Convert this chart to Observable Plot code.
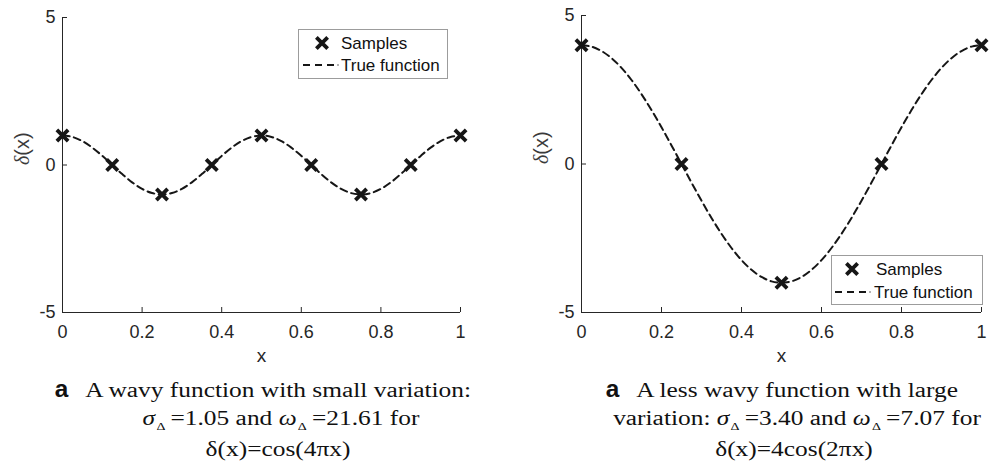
<!DOCTYPE html>
<html><head><meta charset="utf-8">
<script src="https://cdn.jsdelivr.net/npm/d3@7"></script>
<script src="https://cdn.jsdelivr.net/npm/@observablehq/plot@0.6"></script>
<style>
body{margin:0;background:#fff;}
#root{position:relative;width:1003px;height:474px;overflow:hidden;font-family:"Liberation Sans",Arial,sans-serif;}
.panel{position:absolute;top:0;}
svg.panel g[aria-label$="tick label"] text, svg.panel g[aria-label$="tick label"]{font-size:18px;}
svg.panel text.ylab{font-size:20px;}
svg.panel text.xlab{font-size:19px;}
.cap{position:absolute;font-family:"Liberation Serif","Times New Roman",serif;font-size:20px;line-height:20px;color:#111;white-space:nowrap;transform:translateX(-50%) scaleX(1.27);transform-origin:50% 50%;}
.cap span.lab{font-family:"Liberation Sans",Arial,sans-serif;font-weight:bold;font-size:24px;margin-right:12px;display:inline-block;transform:scaleX(0.8);}
.cap i{font-style:italic;}
.cap sub{font-size:11px;font-style:normal;vertical-align:-5px;margin-left:1px;margin-right:4px;}
.leg{position:absolute;}
</style>
</head><body><div id="root"></div>
<script>
// ---------- data ----------
const xTicks = [0, 0.2, 0.4, 0.6, 0.8, 1];
const xTickLabels = ["0", "0.2", "0.4", "0.6", "0.8", "1"];
const yTicks = [-5, 0, 5];
const yTickLabels = ["-5", "0", "5"];
const xDomain = [0, 1];
const yDomain = [-5, 5];

const curveX = [0,0.025,0.05,0.075,0.1,0.125,0.15,0.175,0.2,0.225,0.25,0.275,0.3,0.325,0.35,0.375,0.4,0.425,0.45,0.475,0.5,0.525,0.55,0.575,0.6,0.625,0.65,0.675,0.7,0.725,0.75,0.775,0.8,0.825,0.85,0.875,0.9,0.925,0.95,0.975,1];

const leftCurveY = [1,0.951,0.809,0.588,0.309,0,-0.309,-0.588,-0.809,-0.951,-1,-0.951,-0.809,-0.588,-0.309,0,0.309,0.588,0.809,0.951,1,0.951,0.809,0.588,0.309,0,-0.309,-0.588,-0.809,-0.951,-1,-0.951,-0.809,-0.588,-0.309,0,0.309,0.588,0.809,0.951,1];
const leftSampleX = [0, 0.125, 0.25, 0.375, 0.5, 0.625, 0.75, 0.875, 1];
const leftSampleY = [1, 0, -1, 0, 1, 0, -1, 0, 1];

const rightCurveY = [4,3.951,3.804,3.564,3.236,2.828,2.351,1.816,1.236,0.626,0,-0.626,-1.236,-1.816,-2.351,-2.828,-3.236,-3.564,-3.804,-3.951,-4,-3.951,-3.804,-3.564,-3.236,-2.828,-2.351,-1.816,-1.236,-0.626,0,0.626,1.236,1.816,2.351,2.828,3.236,3.564,3.804,3.951,4];
const rightSampleX = [0, 0.25, 0.5, 0.75, 1];
const rightSampleY = [4, 0, -4, 0, 4];

const legendLabels = ["Samples", "True function"];
const xLabel = "x";
const yLabel = "δ(x)";

// ---------- drawing ----------
const AX = "#262626";
const INK = "#161616";
const MR = 5.2;
const root = document.getElementById("root");

function panel(cfg) {
  const curve = curveX.map((x, i) => ({x, y: cfg.curveY[i]}));
  const samples = cfg.sx.map((x, i) => ({x, y: cfg.sy[i]}));
  const svg = Plot.plot({
    width: cfg.width, height: 370,
    marginLeft: cfg.ml, marginRight: cfg.mr, marginTop: cfg.mt, marginBottom: 58,
    x: {domain: xDomain}, y: {domain: yDomain},
    style: {fontFamily: "'Liberation Sans', Arial, sans-serif", fontSize: "18px", color: AX, background: "transparent", overflow: "visible"},
    marks: [
      Plot.ruleX([xDomain[0]], {stroke: AX, strokeWidth: 1}),
      Plot.ruleY([yDomain[0]], {stroke: AX, strokeWidth: 1}),
      Plot.axisX(xTicks, {tickSize: -5, tickPadding: 18, tickFormat: d => xTickLabels[xTicks.indexOf(d)], label: null, stroke: AX, fill: AX}),
      Plot.axisY(yTicks, {tickSize: -5, tickPadding: 12, tickFormat: d => yTickLabels[yTicks.indexOf(d)], label: null, stroke: AX, fill: AX}),
      Plot.text([xLabel], {frameAnchor: "bottom", dy: 49, text: d => d, fill: AX}),
      Plot.text([yLabel], {frameAnchor: "left", dx: -40, rotate: -90, text: d => d, fill: "#3a3a3a"}),
      Plot.line(curve, {x: "x", y: "y", stroke: INK, strokeWidth: 2, strokeDasharray: "7,4.5", curve: "catmull-rom"}),
      Plot.dot(samples, {x: "x", y: "y", symbol: "times", r: MR, stroke: INK, strokeWidth: 3.8})
    ]
  });
  svg.classList.add("panel");
  svg.style.left = cfg.left + "px";
  d3.select(svg).selectAll("text").each(function() {
    const t = d3.select(this);
    if (t.text() === yLabel) {
      t.text(null).classed("ylab", true);
      t.append("tspan").attr("font-family", "'Liberation Serif', serif").attr("font-style", "italic").text(yLabel[0]);
      t.append("tspan").text(yLabel.slice(1));
    } else if (t.text() === xLabel) {
      t.classed("xlab", true);
    }
  });
  root.appendChild(svg);
}

panel({left: 0, width: 500, ml: 62, mr: 40, mt: 17, curveY: leftCurveY, sx: leftSampleX, sy: leftSampleY});
panel({left: 500, width: 503, ml: 81, mr: 22, mt: 15, curveY: rightCurveY, sx: rightSampleX, sy: rightSampleY});

function legend(cfg) {
  const svg = d3.create("svg").attr("class", "leg").attr("width", cfg.w).attr("height", cfg.h)
    .style("left", cfg.left + "px").style("top", cfg.top + "px");
  svg.append("rect").attr("x", 0.5).attr("y", 0.5).attr("width", cfg.w - 1).attr("height", cfg.h - 1)
    .attr("fill", "#fff").attr("stroke", "#9c9c9c");
  svg.append("path").attr("d", d3.symbol(d3.symbolTimes, Math.PI * MR * MR)())
    .attr("transform", `translate(${cfg.mx},${cfg.r1})`).attr("stroke", INK).attr("stroke-width", 3.8).attr("fill", "none");
  svg.append("line").attr("x1", cfg.l1).attr("x2", cfg.l2).attr("y1", cfg.r2).attr("y2", cfg.r2)
    .attr("stroke", INK).attr("stroke-width", 2).attr("stroke-dasharray", "7,5");
  svg.append("circle").attr("cx", cfg.l2 + 3).attr("cy", cfg.r2).attr("r", 0.8).attr("fill", "#555");
  const tx = svg.append("g").attr("font-family", "'Liberation Sans', Arial, sans-serif").attr("font-size", 17).attr("fill", "#111");
  tx.append("text").attr("x", cfg.t1).attr("y", cfg.r1).attr("dy", "0.35em").text(legendLabels[0]);
  tx.append("text").attr("x", cfg.t2).attr("y", cfg.r2).attr("dy", "0.35em").text(legendLabels[1]);
  root.appendChild(svg.node());
}
legend({left: 298, top: 29, w: 150, h: 50, mx: 24, r1: 14, r2: 36, l1: 5, l2: 37, t1: 43, t2: 43});
legend({left: 831, top: 255, w: 152, h: 50, mx: 21, r1: 14, r2: 37, l1: 4, l2: 36, t1: 45, t2: 43});

// ---------- captions ----------
const captions = [
  {cx: 261.5, top: 379, html: "<span class='lab'>a</span>A wavy function with small variation:"},
  {cx: 281, top: 408, html: "<i>σ</i><sub>Δ</sub>=1.05 and <i>ω</i><sub>Δ</sub>=21.61 for"},
  {cx: 278, top: 439, html: "δ(x)=cos(4πx)"},
  {cx: 781, top: 379, html: "<span class='lab'>a</span>A less wavy function with large"},
  {cx: 796.5, top: 408, html: "variation: <i>σ</i><sub>Δ</sub>=3.40 and <i>ω</i><sub>Δ</sub>=7.07 for"},
  {cx: 794, top: 439, html: "δ(x)=4cos(2πx)"}
];
captions.forEach(c => {
  const d = document.createElement("div");
  d.className = "cap";
  d.style.left = c.cx + "px";
  d.style.top = c.top + "px";
  d.innerHTML = c.html;
  root.appendChild(d);
});
</script>
</body></html>
